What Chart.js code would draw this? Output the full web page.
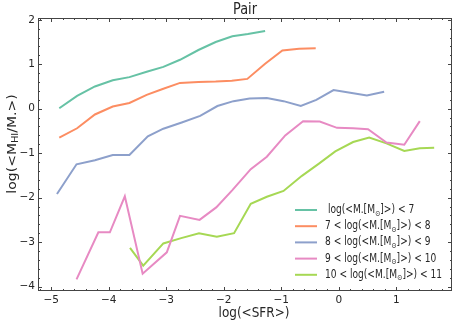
<!DOCTYPE html>
<html><head><meta charset="utf-8">
<script src="https://cdn.jsdelivr.net/npm/chart.js@4/dist/chart.umd.min.js"></script>
<style>html,body{margin:0;padding:0;background:#fff}canvas{display:block}</style>
</head><body>
<canvas id="c" width="457" height="324"></canvas>
<script>
// ---- data ----
const sfrA = [-4.86,-4.55,-4.24,-3.93,-3.64,-3.34,-3.05,-2.76,-2.44,-2.14,-1.85,-1.58,-1.28];
const gasA = [0.01,0.29,0.50,0.64,0.71,0.83,0.94,1.10,1.32,1.50,1.63,1.68,1.75];

const sfrB = [-4.86,-4.55,-4.24,-3.93,-3.64,-3.34,-3.05,-2.76,-2.44,-2.14,-1.86,-1.59,-1.28,-0.98,-0.69,-0.40];
const gasB = [-0.65,-0.44,-0.13,0.05,0.13,0.31,0.45,0.58,0.60,0.61,0.63,0.67,1.01,1.31,1.35,1.36];

const sfrC = [-4.90,-4.56,-4.24,-3.93,-3.64,-3.32,-3.05,-2.73,-2.41,-2.11,-1.83,-1.55,-1.25,-0.96,-0.66,-0.39,-0.09,0.20,0.49,0.79];
const gasC = [-1.92,-1.25,-1.16,-1.04,-1.04,-0.62,-0.45,-0.31,-0.16,0.06,0.17,0.23,0.24,0.17,0.06,0.20,0.42,0.36,0.30,0.38];

const sfrD = [-4.56,-4.18,-3.98,-3.72,-3.41,-2.99,-2.76,-2.42,-2.13,-1.85,-1.53,-1.25,-0.93,-0.62,-0.33,-0.03,0.25,0.51,0.83,1.14,1.41];
const gasD = [-3.84,-2.78,-2.78,-1.97,-3.71,-3.23,-2.41,-2.50,-2.22,-1.83,-1.36,-1.08,-0.60,-0.28,-0.29,-0.43,-0.44,-0.46,-0.76,-0.81,-0.28];

const sfrE = [-3.63,-3.40,-3.05,-2.74,-2.43,-2.12,-1.82,-1.53,-1.25,-0.96,-0.64,-0.35,-0.06,0.25,0.53,0.83,1.14,1.41,1.66];
const gasE = [-3.13,-3.53,-3.03,-2.91,-2.80,-2.88,-2.80,-2.14,-1.98,-1.85,-1.51,-1.24,-0.96,-0.75,-0.65,-0.78,-0.95,-0.89,-0.88];

const binLow  = [null, 7, 8, 9, 10];
const binHigh = [7, 8, 9, 10, 11];
const xTickVals = [-5,-4,-3,-2,-1,0,1];
const yTickVals = [-4,-3,-2,-1,0,1,2];
const chartTitle = 'Pair';
const xTitle = 'log(<SFR>)';

// ---- styling ----
const colors = ['#66c2a5','#fc8d62','#8da0cb','#e78ac3','#a6d854'];
const FONT = "'DejaVu Sans', sans-serif";
const TXT = '#262626';
const AX = '#444';
const X_MIN = -5.23, X_MAX = 1.97, Y_MIN = -4.10, Y_MAX = 2.04;
const SQ = 0.86; // horizontal squeeze of text seen in the reference

function pts(xs, ys) { return xs.map((x, i) => ({ x: x, y: ys[i] })); }
const allX = [sfrA, sfrB, sfrC, sfrD, sfrE];
const allY = [gasA, gasB, gasC, gasD, gasE];

function labelParts(i) {
  const core = [{t:'log(<M.[M'},{t:'\u2299',sub:true},{t:']>)'}];
  const parts = [];
  if (binLow[i] !== null) parts.push({t: binLow[i] + ' < '}); else parts.push({t:' '});
  return parts.concat(core, [{t:' < ' + binHigh[i]}]);
}

function richWidth(ctx, parts, size) {
  let w = 0;
  for (const p of parts) {
    ctx.font = (p.sub ? size*0.7 : size) + 'px ' + FONT;
    w += ctx.measureText(p.t).width;
  }
  return w;
}
function drawRich(ctx, parts, size, align) {
  const w = richWidth(ctx, parts, size);
  let x = align === 'center' ? -w/2 : 0;
  ctx.textAlign = 'left';
  ctx.textBaseline = 'middle';
  for (const p of parts) {
    const s = p.sub ? size*0.7 : size;
    ctx.font = s + 'px ' + FONT;
    ctx.fillText(p.t, x, p.sub ? size*0.3 : 0);
    x += ctx.measureText(p.t).width;
  }
}

const decor = {
  id: 'decor',
  afterDraw(chart) {
    const ctx = chart.ctx, ca = chart.chartArea;
    const xs = chart.scales.x, ys = chart.scales.y;
    ctx.save();
    // frame
    ctx.strokeStyle = AX; ctx.lineWidth = 1;
    ctx.strokeRect(Math.round(ca.left)+0.5, Math.round(ca.top)+0.5,
                   Math.round(ca.right-ca.left)-1, Math.round(ca.bottom-ca.top)-1);
    // inward ticks
    ctx.beginPath();
    for (let k = -26; k <= 9; k++) {
      const v = k*0.2;
      if (v < X_MIN || v > X_MAX) continue;
      const major = Math.abs(v - Math.round(v)) < 1e-6;
      const L = major ? 4 : 2;
      const px = Math.round(xs.getPixelForValue(v)) + 0.5;
      ctx.moveTo(px, ca.bottom); ctx.lineTo(px, ca.bottom - L);
      ctx.moveTo(px, ca.top); ctx.lineTo(px, ca.top + L);
    }
    for (let k = -20; k <= 10; k++) {
      const v = k*0.2;
      if (v < Y_MIN || v > Y_MAX) continue;
      const major = Math.abs(v - Math.round(v)) < 1e-6;
      const L = major ? 4 : 2;
      const py = Math.round(ys.getPixelForValue(v)) + 0.5;
      ctx.moveTo(ca.left, py); ctx.lineTo(ca.left + L, py);
      ctx.moveTo(ca.right, py); ctx.lineTo(ca.right - L, py);
    }
    ctx.stroke();

    ctx.fillStyle = TXT;
    // title
    ctx.save(); ctx.translate((ca.left+ca.right)/2, 10); ctx.scale(SQ,1);
    drawRich(ctx, [{t: chartTitle}], 15, 'center'); ctx.restore();
    // x title
    ctx.save(); ctx.translate(254, 313); ctx.scale(SQ,1);
    drawRich(ctx, [{t: xTitle}], 14, 'center'); ctx.restore();
    // y title
    ctx.save(); ctx.translate(12.5, 144); ctx.rotate(-Math.PI/2); ctx.scale(1, SQ);
    drawRich(ctx, [{t:'log(<M'},{t:'HI',sub:true},{t:'/M.>)'}], 14, 'center'); ctx.restore();

    // legend
    const lx0 = 295, lx1 = 317, tx = 325, ry0 = 210, dy = 16.2;
    chart.data.datasets.forEach((ds, i) => {
      const y = ry0 + i*dy;
      ctx.strokeStyle = ds.borderColor; ctx.lineWidth = 2;
      ctx.beginPath(); ctx.moveTo(lx0, y); ctx.lineTo(lx1, y); ctx.stroke();
      ctx.fillStyle = TXT;
      ctx.save(); ctx.translate(tx, y); ctx.scale(0.79,1);
      drawRich(ctx, labelParts(i), 11.5, 'left'); ctx.restore();
    });
    ctx.restore();
  }
};

const fmt = v => String(v).replace('-', '\u2212');

new Chart(document.getElementById('c'), {
  type: 'line',
  data: {
    datasets: allX.map((xs, i) => ({
      label: 'bin' + i,
      data: pts(xs, allY[i]),
      borderColor: colors[i],
      backgroundColor: colors[i],
      borderWidth: 2,
      pointRadius: 0,
      tension: 0,
      fill: false
    }))
  },
  options: {
    responsive: false,
    animation: false,
    devicePixelRatio: 1,
    layout: { padding: { left: 0, right: 5, top: 18, bottom: 0 } },
    plugins: { legend: { display: false }, tooltip: { enabled: false }, title: { display: false } },
    scales: {
      x: {
        type: 'linear', min: X_MIN, max: X_MAX,
        afterBuildTicks: s => { s.ticks = xTickVals.map(v => ({ value: v })); },
        afterFit: s => { s.height = 33; },
        grid: { display: false, drawTicks: false },
        border: { display: false },
        ticks: { callback: fmt, color: TXT, font: { size: 10.5, family: FONT }, padding: 3, maxRotation: 0, autoSkip: false }
      },
      y: {
        type: 'linear', min: Y_MIN, max: Y_MAX,
        afterBuildTicks: s => { s.ticks = yTickVals.map(v => ({ value: v })); },
        afterFit: s => { s.width = 38; },
        grid: { display: false, drawTicks: false },
        border: { display: false },
        ticks: { callback: fmt, color: TXT, font: { size: 10.5, family: FONT }, padding: 3, autoSkip: false }
      }
    }
  },
  plugins: [decor]
});
</script>
</body></html>
